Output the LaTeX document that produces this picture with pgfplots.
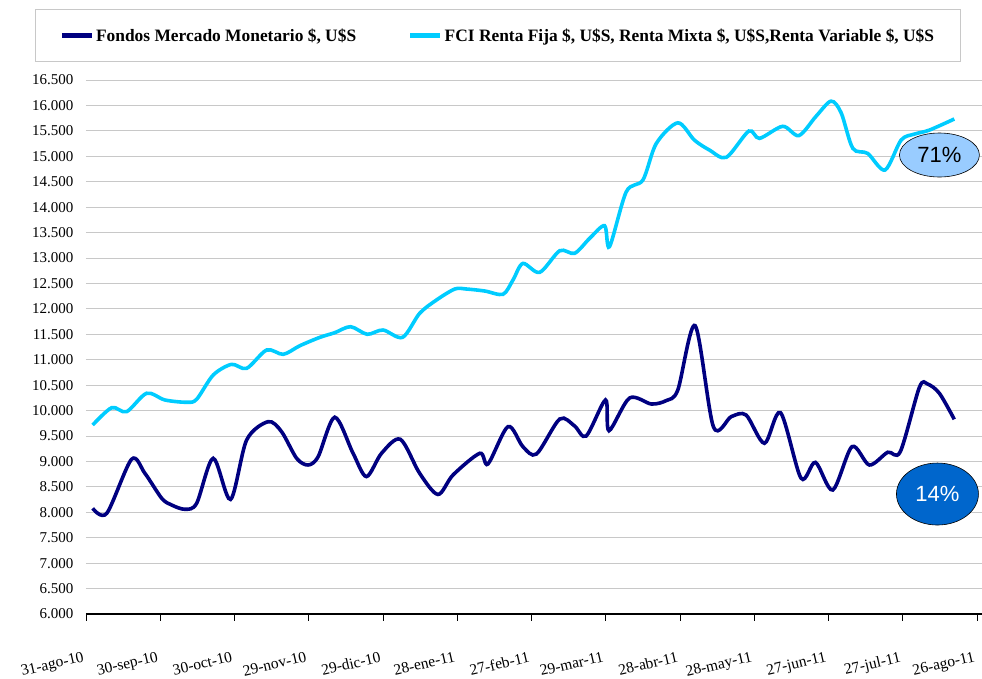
\documentclass[border=0pt]{standalone}
\usepackage{pgfplots}
\pgfplotsset{compat=1.18}
\usepackage{fontspec}
\setmainfont{Liberation Serif}
\newfontfamily\arial{Liberation Sans}
\usetikzlibrary{shapes.geometric}
\definecolor{darkser}{RGB}{0,0,128}
\definecolor{lightser}{RGB}{0,204,255}
\definecolor{ellA}{RGB}{153,204,255}
\definecolor{ellB}{RGB}{0,102,204}
\definecolor{gridc}{RGB}{200,200,200}
\begin{document}
\begin{tikzpicture}
\path[use as bounding box] (-86pt,-65pt) rectangle (896pt,614pt);
\begin{axis}[
  at={(0pt,0pt)}, anchor=south west,
  scale only axis, width=896pt, height=534pt,
  xmin=0, xmax=362, ymin=6000, ymax=16500,
  axis x line*=bottom, axis y line*=left,
  y axis line style={draw=none},
  x axis line style={black, line width=1.2pt},
  xtick={0,30,...,360},
  xticklabels={31-ago-10,30-sep-10,30-oct-10,29-nov-10,29-dic-10,28-ene-11,27-feb-11,29-mar-11,28-abr-11,28-may-11,27-jun-11,27-jul-11,26-ago-11},
  xtick align=outside,
  x tick style={black, line width=0.8pt},
  major tick length=7pt,
  xticklabel style={font=\fontsize{15.5}{15.5}\selectfont, yshift=-29pt, xshift=-3pt, rotate=13, anchor=north east, inner sep=1pt},
  scaled y ticks=false,
  ytick={6000,6500,...,16500},
  yticklabels={6.000,6.500,7.000,7.500,8.000,8.500,9.000,9.500,10.000,10.500,11.000,11.500,12.000,12.500,13.000,13.500,14.000,14.500,15.000,15.500,16.000,16.500},
  y tick style={draw=none},
  yticklabel style={font=\fontsize{15}{15}\selectfont, xshift=-9pt},
  ymajorgrids, grid style={gridc, line width=0.9pt},
  legend columns=2,
  legend style={at={(-0.057,1.133)}, anchor=north west, draw=gridc, line width=1.2pt,
    inner xsep=24pt, inner ysep=17pt,
    font=\bfseries\fontsize{17.4}{17.4}\selectfont,
    /tikz/every even column/.append style={column sep=50pt},
    nodes={inner xsep=2pt}},
  legend image code/.code={\draw[#1, line width=4.5pt] (0pt,0pt) -- (30pt,0pt);},
  clip=false,
]
\addplot[darkser, line width=3.6pt, smooth, tension=0.5] coordinates {
(2.7,8078)(8.4,7980)(18.4,9042)(23.8,8766)(30.6,8275)(34.6,8143)(40,8059)(44.7,8177)
(51.4,9061)(58.4,8253)(64.9,9421)(73.6,9782)(79,9586)(85.1,9061)(89.7,8930)(93.8,9095)
(100.5,9869)(107.9,9160)(113.3,8702)(119.4,9160)(127,9435)(134.8,8766)(142.2,8351)
(148.3,8735)(159.1,9160)(162.4,8950)(170.5,9685)(176.5,9291)(182,9146)(191.4,9834)
(197.4,9696)(202.1,9500)(209.9,10208)(211.3,9604)(219.6,10247)(228.4,10129)(234.4,10196)
(239.1,10404)(246.1,11669)(253.5,9680)(260.7,9881)(266.7,9912)(274.1,9357)
(280.6,9958)(288.9,8670)(294.7,8981)(301.7,8438)(309.5,9291)(316.5,8930)(323.9,9180)
(329,9193)(336.7,10457)(340,10522)(344.8,10338)(350.8,9828)
};
\addlegendentry{Fondos Mercado Monetario \$, U\$S}
\addplot[lightser, line width=3.6pt, smooth, tension=0.5] coordinates {
(2.7,9716)(10.4,10057)(16.4,9978)(24.5,10340)(31.9,10208)(40.7,10163)(44.7,10222)
(51.4,10699)(58.8,10909)(64.9,10830)(73,11191)(79.7,11106)(86.4,11275)(94.5,11440)
(100.5,11531)(106.9,11649)(113.6,11500)(120,11584)(127.9,11440)(134.8,11912)(141.6,12174)
(149,12390)(153.7,12390)(161.1,12351)(168.5,12287)(172.5,12567)(176.5,12893)(183.3,12718)
(191.4,13143)(197.4,13092)(203.5,13387)(209.5,13635)(211.5,13222)(218.3,14304)(225,14534)
(230.4,15252)(239.1,15658)(245.8,15318)(251.9,15122)(258.7,14979)(267.8,15496)(272.1,15352)
(281.5,15589)(288,15407)(295,15789)(301,16084)(305.1,15854)(309.8,15156)(315.8,15057)
(322.8,14730)(329.3,15318)(334.7,15436)(340.7,15514)(350.8,15733)
};
\addlegendentry{FCI Renta Fija \$, U\$S, Renta Mixta \$, U\$S,Renta Variable \$, U\$S}
\node[ellipse, draw=black, line width=0.6pt, fill=ellA, minimum width=80pt, minimum height=44pt, inner sep=0pt, font=\arial\fontsize{22}{22}\selectfont] at (axis cs:344.8,15025) {71\%};
\node[ellipse, draw=black, line width=0.6pt, fill=ellB, text=white, minimum width=82pt, minimum height=62pt, inner sep=0pt, font=\arial\fontsize{22}{22}\selectfont] at (axis cs:344,8359) {14\%};
\end{axis}
\end{tikzpicture}
\end{document}
